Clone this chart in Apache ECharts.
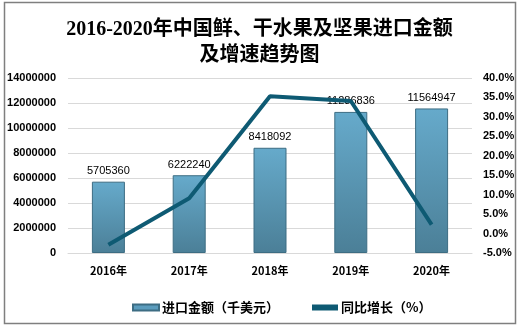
<!DOCTYPE html>
<html><head><meta charset="utf-8">
<script src="https://cdn.jsdelivr.net/npm/echarts@6/dist/echarts.min.js"></script>
<style>html,body{margin:0;padding:0;background:#fff}#c{width:519px;height:327px}</style>
</head><body><div id="c"></div>
<script>
const categories = ['2016年','2017年','2018年','2019年','2020年'];
const importValues = [5705360, 6222240, 8418092, 11286836, 11564947];
const growthValues = [-2.9, 9.06, 35.29, 34.08, 2.3];
const leftTicks = [0, 2000000, 14000000];
const rightTicks = [-5, 40];

const chart = echarts.init(document.getElementById('c'), null, {renderer:'canvas'});
chart.setOption({
  animation:false,
  backgroundColor:'#fff',
  title:{
    text:'2016-2020年中国鲜、干水果及坚果进口金额\n及增速趋势图',
    left:'center', top:12,
    textStyle:{fontFamily:'"Liberation Serif","Noto Sans CJK SC",serif',fontSize:20,fontWeight:'bold',color:'#000',lineHeight:26}
  },
  graphic:[{type:'rect',shape:{x:4.5,y:2.5,width:511,height:321},style:{fill:null,stroke:'#7f7f7f',lineWidth:1.5},silent:true,z:-1}],
  legend:{
    top:296, left:127, itemGap:33, itemWidth:26, itemHeight:6,
    textStyle:{fontFamily:'"Noto Sans CJK SC",sans-serif',fontSize:13,fontWeight:'bold',color:'#000',padding:[0,0,0,-2]},
    data:[
      {name:'进口金额（千美元）',icon:'rect',itemStyle:{color:'#5b9cbd'}},
      {name:'同比增长（%）',icon:'rect',itemStyle:{color:'#0e5a73'}}
    ]
  },
  grid:{left:68,right:47,top:78,bottom:74},
  xAxis:{
    type:'category',data:categories,
    axisLine:{lineStyle:{color:'#d9d9d9',width:1}},axisTick:{show:false},
    axisLabel:{fontFamily:'"Noto Sans CJK SC",sans-serif',fontSize:11,fontWeight:'bold',color:'#000',margin:12}
  },
  yAxis:[
    {type:'value',min:leftTicks[0],max:leftTicks[2],interval:leftTicks[1],
     axisLine:{show:false},axisTick:{show:false},
     splitLine:{lineStyle:{color:'#d9d9d9'}},
     axisLabel:{fontFamily:'"Liberation Sans",Arial,sans-serif',fontSize:11,fontWeight:'bold',color:'#000',margin:12,
       formatter:v=>String(v)}},
    {type:'value',min:rightTicks[0],max:rightTicks[1],interval:5,
     axisLine:{show:false},axisTick:{show:false},splitLine:{show:false},
     axisLabel:{fontFamily:'"Liberation Sans",Arial,sans-serif',fontSize:11,fontWeight:'bold',color:'#000',margin:11,
       formatter:v=>v.toFixed(1)+'%'}}
  ],
  series:[
    {name:'进口金额（千美元）',type:'bar',data:importValues,barWidth:33,
     itemStyle:{borderColor:'#3d6d83',borderWidth:1,
       color:new echarts.graphic.LinearGradient(0,0,0,1,[{offset:0,color:'#66aacb'},{offset:1,color:'#4b7f97'}])},
     label:{show:true,position:'top',distance:5,fontFamily:'"Liberation Sans",Arial,sans-serif',fontSize:11,color:'#000'}},
    {name:'同比增长（%）',type:'line',yAxisIndex:1,data:growthValues,
     symbol:'none',lineStyle:{color:'#0e5a73',width:4},itemStyle:{color:'#0e5a73'}}
  ]
});
</script></body></html>
